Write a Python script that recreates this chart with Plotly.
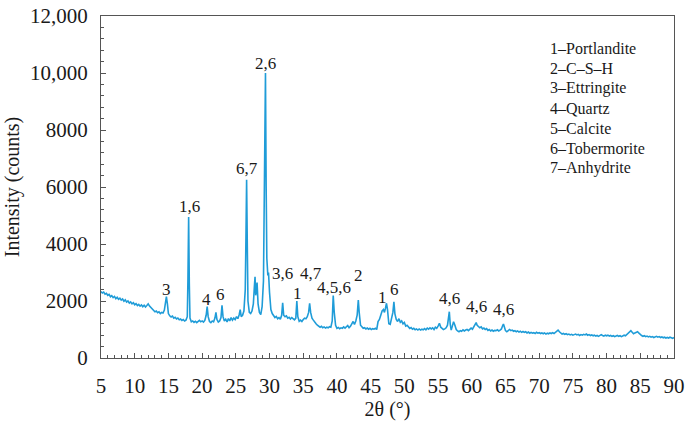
import plotly.graph_objects as go

# ---- XRD scan (2θ in degrees, intensity in counts) ----
two_theta = [
    5.0, 5.2, 5.4, 5.6, 5.8, 6.0, 6.2, 6.4, 6.6, 6.8, 7.0, 7.2, 7.4, 7.6, 7.8, 8.0, 8.2, 8.4, 8.6, 8.8,
    9.0, 9.2, 9.4, 9.6, 9.8, 10.0, 10.2, 10.4, 10.6, 10.8, 11.0, 11.2, 11.4, 11.6, 11.8, 12.0, 12.2, 12.4, 12.6, 12.8,
    13.0, 13.2, 13.4, 13.6, 13.8, 14.0, 14.2, 14.4, 14.55, 14.7, 14.85, 15.0, 15.2, 15.4, 15.6, 15.8, 16.0, 16.2, 16.4, 16.6,
    16.8, 17.0, 17.2, 17.4, 17.6, 17.8, 17.9, 18.0, 18.1, 18.2, 18.4, 18.6, 18.8, 19.0, 19.2, 19.4, 19.6, 19.8, 20.0, 20.2,
    20.4, 20.6, 20.75, 20.9, 21.1, 21.3, 21.5, 21.7, 21.9, 22.05, 22.2, 22.4, 22.6, 22.8, 22.95, 23.1, 23.3, 23.5, 23.7, 23.9,
    24.1, 24.3, 24.5, 24.7, 24.9, 25.1, 25.3, 25.5, 25.65, 25.8, 26.0, 26.2, 26.4, 26.5, 26.6, 26.7, 26.8, 27.0, 27.2, 27.4,
    27.6, 27.75, 27.85, 27.95, 28.05, 28.15, 28.3, 28.5, 28.7, 28.9, 29.1, 29.25, 29.4, 29.5, 29.6, 29.75, 29.85, 30.0, 30.2, 30.4,
    30.6, 30.8, 31.0, 31.2, 31.4, 31.6, 31.8, 31.95, 32.1, 32.3, 32.5, 32.7, 32.9, 33.1, 33.3, 33.5, 33.7, 33.9, 34.05, 34.2,
    34.4, 34.6, 34.8, 35.0, 35.2, 35.4, 35.6, 35.8, 35.95, 36.1, 36.3, 36.5, 36.7, 36.9, 37.1, 37.3, 37.5, 37.7, 37.9, 38.1,
    38.3, 38.5, 38.7, 38.9, 39.1, 39.3, 39.45, 39.6, 39.8, 40.0, 40.2, 40.4, 40.6, 40.8, 41.0, 41.2, 41.4, 41.6, 41.8, 42.0,
    42.2, 42.4, 42.6, 42.8, 43.0, 43.17, 43.3, 43.5, 43.7, 43.9, 44.1, 44.3, 44.5, 44.7, 44.9, 45.1, 45.3, 45.5, 45.7, 45.9,
    46.1, 46.3, 46.5, 46.7, 46.9, 47.05, 47.2, 47.35, 47.5, 47.7, 47.9, 48.1, 48.3, 48.45, 48.6, 48.8, 49.0, 49.2, 49.4, 49.6,
    49.8, 50.0, 50.2, 50.4, 50.6, 50.8, 51.0, 51.2, 51.4, 51.6, 51.8, 52.0, 52.2, 52.4, 52.6, 52.8, 53.0, 53.2, 53.4, 53.6,
    53.8, 54.0, 54.2, 54.4, 54.6, 54.8, 55.0, 55.2, 55.4, 55.6, 55.8, 56.0, 56.2, 56.4, 56.55, 56.67, 56.8, 56.95, 57.1, 57.3,
    57.5, 57.7, 57.9, 58.1, 58.3, 58.5, 58.7, 58.9, 59.1, 59.3, 59.5, 59.7, 59.9, 60.1, 60.3, 60.5, 60.65, 60.8, 61.0, 61.2,
    61.4, 61.6, 61.8, 62.0, 62.2, 62.4, 62.6, 62.8, 63.0, 63.2, 63.4, 63.6, 63.8, 64.0, 64.2, 64.4, 64.6, 64.7, 64.85, 65.0,
    65.2, 65.4, 65.6, 65.8, 66.0, 66.2, 66.4, 66.6, 66.8, 67.0, 67.2, 67.4, 67.6, 67.8, 68.0, 68.2, 68.4, 68.6, 68.8, 69.0,
    69.2, 69.4, 69.6, 69.8, 70.0, 70.2, 70.4, 70.6, 70.8, 71.0, 71.2, 71.4, 71.6, 71.8, 72.0, 72.2, 72.4, 72.6, 72.8, 73.0,
    73.2, 73.4, 73.6, 73.8, 74.0, 74.2, 74.4, 74.6, 74.8, 75.0, 75.2, 75.4, 75.6, 75.8, 76.0, 76.2, 76.4, 76.6, 76.8, 77.0,
    77.2, 77.4, 77.6, 77.8, 78.0, 78.2, 78.4, 78.6, 78.8, 79.0, 79.2, 79.4, 79.6, 79.8, 80.0, 80.2, 80.4, 80.6, 80.8, 81.0,
    81.2, 81.4, 81.6, 81.8, 82.0, 82.2, 82.4, 82.6, 82.8, 83.0, 83.2, 83.4, 83.6, 83.8, 84.0, 84.2, 84.4, 84.6, 84.8, 85.0,
    85.2, 85.4, 85.6, 85.8, 86.0, 86.2, 86.4, 86.6, 86.8, 87.0, 87.2, 87.4, 87.6, 87.8, 88.0, 88.2, 88.4, 88.6, 88.8, 89.0,
    89.2, 89.4, 89.6, 89.8, 90.0,
]
intensity = [
    2330, 2280, 2310, 2240, 2270, 2200, 2230, 2150, 2190, 2120, 2160, 2080, 2130, 2060, 2100, 2030, 2070, 1990, 2040, 1960,
    2000, 1930, 1970, 1900, 1940, 1870, 1910, 1840, 1880, 1820, 1860, 1800, 1850, 1790, 1840, 1900, 1820, 1760, 1700, 1660,
    1620, 1650, 1590, 1620, 1560, 1600, 1580, 1680, 1950, 2150, 1900, 1560, 1480, 1440, 1470, 1400, 1430, 1370, 1400, 1340,
    1370, 1320, 1350, 1300, 1330, 1450, 2800, 4950, 2600, 1400, 1270, 1300, 1250, 1290, 1240, 1280, 1320, 1270, 1300, 1260,
    1320, 1500, 1800, 1450, 1280, 1240, 1300, 1270, 1400, 1600, 1350, 1260, 1300, 1420, 1850, 1450, 1300, 1360, 1270, 1380,
    1300, 1420, 1330, 1400, 1350, 1450, 1380, 1520, 1700, 1450, 1500, 1650, 2400, 4200, 6250, 4000, 2000, 1600, 1560, 1650,
    1900, 2500, 2850, 2200, 2500, 2650, 1900, 1600, 1520, 1800, 2700, 5500, 10000, 6000, 3500, 2900, 3000, 2300, 1700, 1560,
    1480, 1420, 1460, 1380, 1420, 1360, 1500, 1940, 1500, 1450, 1480, 1400, 1430, 1370, 1420, 1380, 1340, 1400, 2000, 1450,
    1290, 1330, 1280, 1350, 1400, 1380, 1450, 1600, 1920, 1600, 1400, 1330, 1250, 1200, 1150, 1120, 1080, 1110, 1060, 1090,
    1050, 1080, 1060, 1100, 1080, 1300, 2190, 1600, 1150, 1040, 1070, 1030, 1060, 1040, 1090, 1050, 1080, 1140, 1060, 1110,
    1200, 1280, 1180, 1300, 1500, 2035, 1600, 1150, 1100, 1040, 1060, 1020, 1050, 1010, 1040, 1000, 1030, 1010, 1040, 1000,
    1280, 1350, 1500, 1650, 1700, 1600, 1750, 1920, 1700, 1200, 1180, 1400, 1600, 1975, 1550, 1350, 1280, 1380, 1250, 1300,
    1200, 1250, 1120, 1150, 1080, 1040, 1070, 1010, 1040, 990, 1020, 980, 1020, 980, 1010, 990, 1030, 990, 1050, 1010,
    1060, 1020, 1060, 1000, 1080, 1040, 1120, 1215, 1080, 1040, 1000, 1020, 1060, 1150, 1400, 1625, 1200, 980, 1100, 1275,
    1150, 1000, 950, 920, 960, 940, 990, 950, 980, 1000, 960, 1020, 1050, 1010, 1100, 1180, 1240, 1150, 1100, 1060,
    1090, 1020, 1050, 1000, 1030, 970, 1000, 950, 980, 940, 970, 960, 990, 950, 980, 1020, 1150, 1190, 1080, 960,
    920, 950, 1000, 960, 980, 940, 960, 920, 950, 910, 940, 900, 930, 900, 920, 880, 910, 870, 900, 870,
    890, 860, 900, 870, 890, 860, 880, 850, 880, 840, 870, 850, 880, 860, 890, 860, 900, 930, 980, 920,
    870, 840, 860, 830, 850, 820, 840, 810, 830, 800, 820, 840, 810, 830, 790, 820, 800, 830, 810, 840,
    800, 820, 790, 810, 780, 800, 770, 790, 760, 790, 820, 790, 770, 800, 780, 800, 770, 790, 760, 780,
    750, 770, 790, 760, 780, 750, 770, 800, 780, 820, 850, 900, 960, 900, 850, 880, 900, 920, 870, 820,
    790, 760, 780, 750, 770, 740, 760, 730, 750, 720, 740, 760, 730, 750, 720, 740, 710, 730, 700, 720,
    700, 730, 710, 690, 720,
]
assert len(two_theta) == len(intensity)

# ---- peak phase labels ----
peak_labels = ["3", "1,6", "4", "6", "6,7", "2,6", "3,6", "1", "4,7", "4,5,6", "2", "1", "6", "4,6", "4,6", "4,6"]
label_theta = [14.75, 18.1, 20.68, 22.76, 26.61, 29.43, 31.95, 34.18, 36.11, 39.49, 43.17, 46.79, 48.47, 56.67, 60.73, 64.68]
label_counts = [2390, 5310, 2040, 2240, 6660, 10340, 2970, 2270, 2970, 2460, 2910, 2130, 2390, 2100, 1800, 1710]

# ---- phase key ----
phases = ["1–Portlandite", "2–C–S–H", "3–Ettringite", "4–Quartz", "5–Calcite", "6–Tobermorite", "7–Anhydrite"]

y_ticks = [0, 2000, 4000, 6000, 8000, 10000, 12000]
y_tick_text = ["0", "2000", "4000", "6000", "8000", "10,000", "12,000"]
x_ticks = [5, 10, 15, 20, 25, 30, 35, 40, 45, 50, 55, 60, 65, 70, 75, 80, 85, 90]

FONT = "Liberation Serif, Times New Roman, serif"
TXT = "#1a1a1a"
AX = "#555555"

L, R, T, B = 101, 17, 16, 68
W, H = 691, 426
pw, ph = W - L - R, H - T - B

fig = go.Figure()
fig.add_trace(go.Scatter(
    x=two_theta, y=intensity, mode="lines",
    line=dict(color="#1f9cd8", width=1.6), showlegend=False, hoverinfo="skip",
))

for t, xv, yv in zip(peak_labels, label_theta, label_counts):
    fig.add_annotation(x=xv, y=yv, xref="x", yref="y", text=t, showarrow=False,
                       xanchor="center", yanchor="middle",
                       font=dict(family=FONT, size=17, color=TXT))

# phase key, placed by pixel position inside the plot area
for i, p in enumerate(phases):
    fig.add_annotation(x=(548 - L) / pw, y=1 - (48 + 20 * i - T) / ph,
                       xref="paper", yref="paper", text=p,
                       showarrow=False, xanchor="left", yanchor="middle",
                       font=dict(family=FONT, size=16, color=TXT))

fig.update_layout(
    width=W, height=H,
    margin=dict(l=L, r=R, t=T, b=B, pad=0, autoexpand=False),
    paper_bgcolor="white", plot_bgcolor="white",
    font=dict(family=FONT, size=21, color=TXT),
    xaxis=dict(
        range=[5, 90], tickvals=x_ticks, ticks="inside", ticklen=5, tickwidth=1,
        tickcolor=AX, showline=True, linecolor=AX, linewidth=1.2, mirror=True,
        showgrid=False, zeroline=False, ticklabelstandoff=9, automargin=False,
        minor=dict(dtick=1, ticks="inside", ticklen=3, tickcolor=AX, tickwidth=1),
        title=dict(text="2θ (°)", font=dict(family=FONT, size=20, color=TXT), standoff=4),
        tickfont=dict(family=FONT, size=21, color=TXT),
    ),
    yaxis=dict(
        range=[0, 12000], tickvals=y_ticks, ticktext=y_tick_text, ticks="inside",
        ticklen=5, tickwidth=1, tickcolor=AX, showline=True, linecolor=AX,
        linewidth=1.2, mirror=True, showgrid=False, zeroline=False,
        ticklabelstandoff=8, automargin=False,
        minor=dict(dtick=400, ticks="inside", ticklen=3, tickcolor=AX, tickwidth=1),
        title=dict(text="Intensity (counts)", font=dict(family=FONT, size=20, color=TXT), standoff=4),
        tickfont=dict(family=FONT, size=21, color=TXT),
    ),
)

fig.write_html("out.html")
